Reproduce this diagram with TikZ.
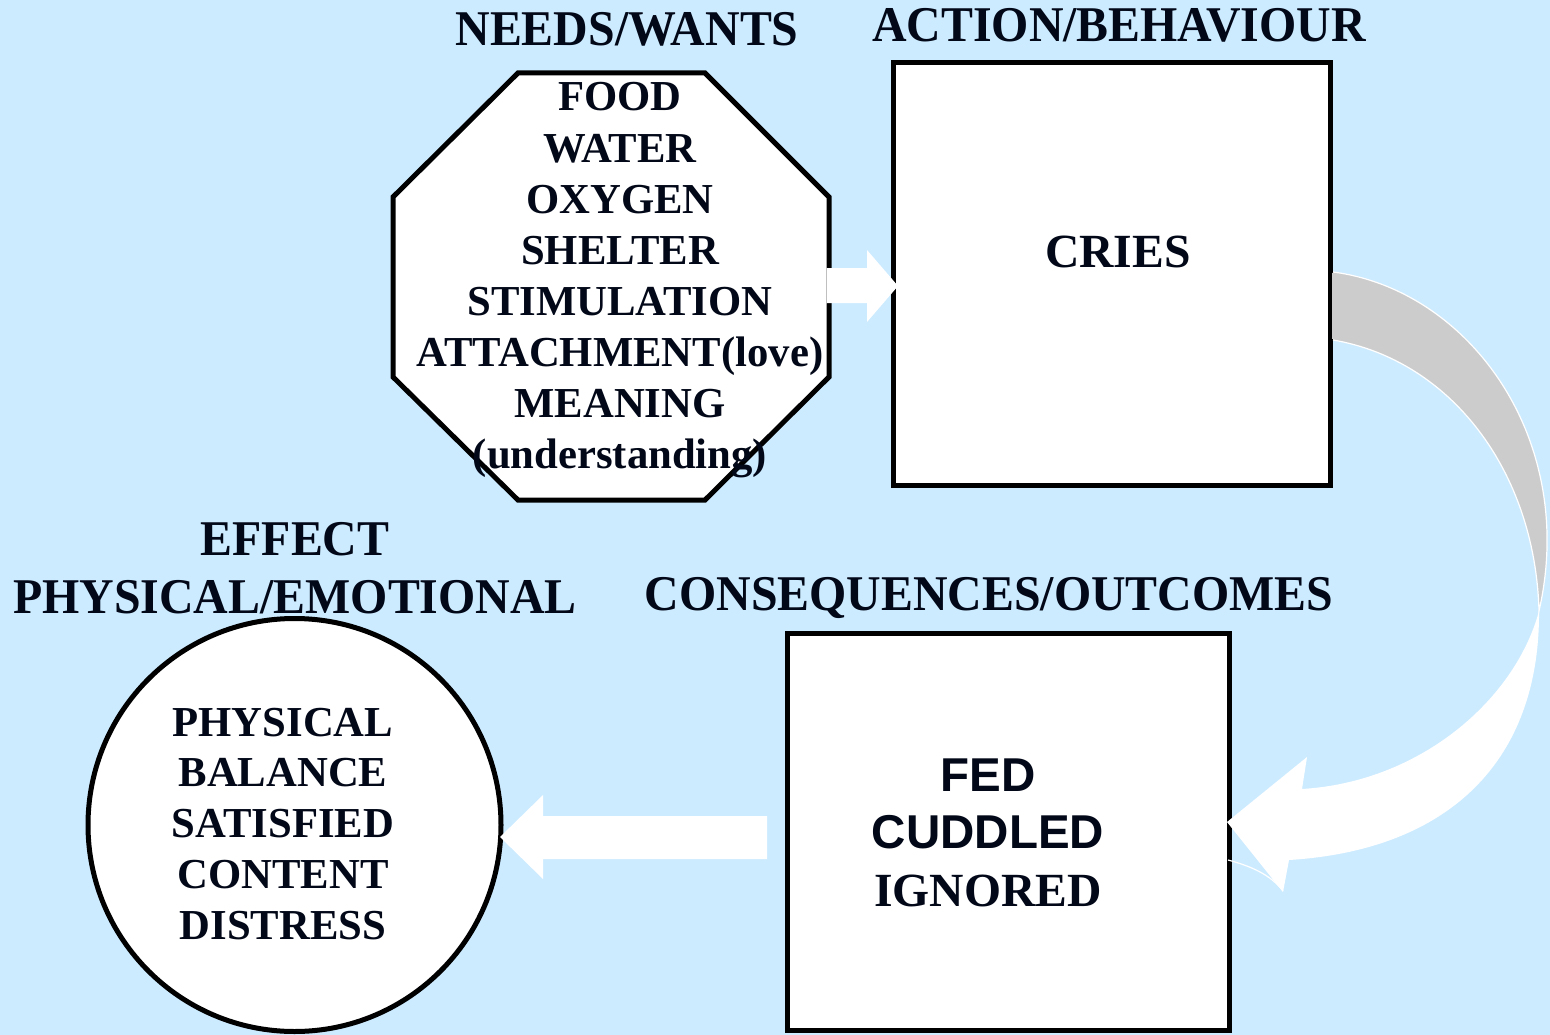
\documentclass[tikz,border=0pt]{standalone}
\usepackage{fontspec}
\setmainfont{Liberation Serif}
\setsansfont{Liberation Sans}
\newfontfamily\headfont[FakeStretch=0.957]{Liberation Serif}
\usetikzlibrary{calc}
\definecolor{sky}{RGB}{204,235,255}
\definecolor{ink}{RGB}{2,8,24}
\definecolor{ribbon}{RGB}{204,204,204}

\begin{document}
\begin{tikzpicture}[x=1pt,y=-1pt,
  every node/.style={inner sep=0pt, outer sep=0pt, text=ink},
  head/.style={anchor=base, font=\headfont\bfseries\fontsize{50}{60}\selectfont},
  item/.style={anchor=base, font=\bfseries\fontsize{42.7}{51}\selectfont},
  big/.style={anchor=base, font=\bfseries\fontsize{47.6}{57}\selectfont},
  bigsans/.style={anchor=base, font=\sffamily\bfseries\fontsize{47.5}{57}\selectfont},
  box/.style={draw=black, line width=5pt, fill=white, rectangle},
  blockarrow/.style={fill=white, draw=none}
]
% background
\fill[sky] (0,0) rectangle (1550,1035);
\useasboundingbox (0,0) rectangle (1550,1035);

% needs octagon
\draw[line width=5pt, fill=white, line join=miter]
  (518,73) -- (705,73) -- (829,197) -- (829,377) -- (705,500)
  -- (518,500) -- (393,377) -- (393,197) -- cycle;
\coordinate (needs) at (611,286.5);

% action box, outcome box, effect circle
\node[box, minimum width=437pt, minimum height=422pt] (action) at (1111.5,274) {};
\node[box, minimum width=442pt, minimum height=397pt] (outcome) at (1008,831.5) {};
\node[draw=black, circle, line width=5pt, fill=white, minimum size=413pt] (effect) at (294.5,825) {};

% headings
\node[head] (hneeds)   at (627,46)  {NEEDS/WANTS};
\node[head] (haction)  at (1119,42) {ACTION/BEHAVIOUR};
\node[head] (heffect1) at (295,555) {EFFECT};
\node[head] (heffect2) at (295,613) {PHYSICAL/EMOTIONAL};
\node[head] (hcons)    at (989,610) {CONSEQUENCES/OUTCOMES};

% list of needs
\foreach \t [count=\i] in {FOOD,WATER,OXYGEN,SHELTER,STIMULATION,ATTACHMENT(love),MEANING,(understanding)}
  \node[item] (need\i) at (620,{111+51.1*(\i-1)}) {\t};

% behaviour
\node[big] (cries) at (1118,267) {CRIES};

% outcomes
\node[bigsans] (fed)     at (988,791) {FED};
\node[bigsans] (cuddled) at (988,848) {CUDDLED};
\node[big]     (ignored) at (988,906) {IGNORED};

% effects
\foreach \t [count=\i] in {PHYSICAL,BALANCE,SATISFIED,CONTENT,DISTRESS}
  \node[item] (eff\i) at (283,{736+50.8*(\i-1)}) {\t};

% needs -> action
\fill[blockarrow] (826,268) -- (867,268) -- (867,250) -- (898,286)
  -- (867,322) -- (867,303) -- (826,303) -- cycle;
\draw[gray!50, line width=0.8pt] (826,268) -- (826,303);

% outcome -> effect
\fill[blockarrow] (767,816) -- (543,816) -- (543,795) -- (500,837)
  -- (543,879) -- (543,859) -- (767,859) -- cycle;

% action -> outcome: twisted ribbon arrow
\filldraw[fill=ribbon, draw=white, line width=1.2pt]
  (1333,272) .. controls (1470,290) and (1578,440) .. (1539,611)
  .. controls (1535,470) and (1450,360) .. (1333,340);
\fill[ribbon] (1332,273) rectangle (1336,339);
\fill[white]
  (1302,789) -- (1307,757) -- (1227,822) -- (1283,892) -- (1289,860)
  .. controls (1450,850) and (1540,760) .. (1539,611)
  .. controls (1515,700) and (1420,782) .. (1302,789) -- cycle;
\draw[white, line width=1.2pt] (1228,860) .. controls (1250,866) and (1270,874) .. (1283,891);
\end{tikzpicture}
\end{document}
